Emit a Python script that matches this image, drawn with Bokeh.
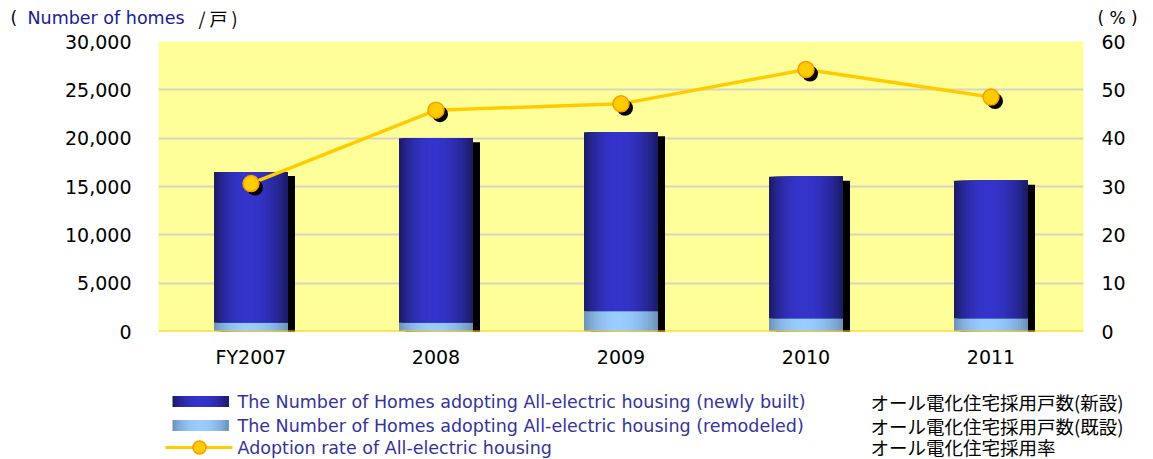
import numpy as np
from bokeh.plotting import figure
from bokeh.models import Range1d, LinearAxis, FixedTicker, NumeralTickFormatter, Span
from bokeh.layouts import column
from bokeh.embed import file_html
from bokeh.resources import INLINE
from bokeh.core.properties import value

# ---------------- data ----------------
categories = ["FY2007", "2008", "2009", "2010", "2011"]
newly_built = [15600, 19100, 18500, 14650, 14250]
remodeled = [900, 900, 2100, 1350, 1350]
adoption_rate = [30.6, 45.8, 47.1, 54.2, 48.5]
left_ticks = [0, 5000, 10000, 15000, 20000, 25000, 30000]
right_ticks = [0, 10, 20, 30, 40, 50, 60]
legend_en = ["The Number of Homes adopting All-electric housing (newly built)",
             "The Number of Homes adopting All-electric housing (remodeled)",
             "Adoption rate of All-electric housing"]
legend_ja = ["オール電化住宅採用戸数(新設)", "オール電化住宅採用戸数(既設)", "オール電化住宅採用率"]

FONT = "DejaVu Sans"
JFONT = "Noto Sans CJK JP"

W = 1153
H0 = 29           # title strip
H1 = 351          # main chart
H2 = 79           # legend strip
frame_l, frame_r, frame_t, frame_b = 158, 70, 12, 49
frame_w = W - frame_l - frame_r
frame_h = H1 - frame_t - frame_b

YMAX = 30000
PMAX = 60
n = len(categories)
px_x = frame_w / n          # px per category unit
px_y = frame_h / YMAX       # px per home
px_p = frame_h / PMAX       # px per percent


def strip_fig(h, y0):
    f = figure(width=W, height=h, output_backend="svg", toolbar_location=None,
               x_range=Range1d(0, W), y_range=Range1d(y0 + h, y0),
               min_border_left=0, min_border_right=0, min_border_top=0, min_border_bottom=0,
               outline_line_color=None, background_fill_color="white", border_fill_color="white")
    f.axis.visible = False
    f.grid.grid_line_color = None
    f.frame_align = False
    return f


def txt(fig, x, y, text, font, size, color):
    fig.text(x=[x], y=[y], text=[text], text_font=value(font), text_font_size=size,
             text_color=color, text_baseline="middle", text_align="left")


# ---------------- title strip ----------------
top = strip_fig(H0, 0)
txt(top, 10, 17, "(", FONT, "17px", "black")
txt(top, 27, 17, "Number of homes", FONT, "17.5px", "#1a1a99")
txt(top, 198, 17, "/ 戸 )", JFONT, "18px", "black")
txt(top, 1097, 17, "( % )", FONT, "17px", "black")

# ---------------- main chart ----------------
p = figure(width=W, height=H1, output_backend="svg", toolbar_location=None,
           x_range=Range1d(-0.5, n - 0.5), y_range=Range1d(0, YMAX),
           min_border_left=frame_l, min_border_right=frame_r,
           min_border_top=frame_t, min_border_bottom=frame_b,
           background_fill_color="#ffff99", border_fill_color="white",
           outline_line_color=None)
p.frame_align = False
p.extra_y_ranges = {"pct": Range1d(0, PMAX)}

p.xgrid.grid_line_color = None
p.ygrid.grid_line_color = "#d6d6c4"
p.ygrid.grid_line_width = 2
p.ygrid.ticker = FixedTicker(ticks=left_ticks)

p.yaxis.ticker = FixedTicker(ticks=left_ticks)
p.yaxis.formatter = NumeralTickFormatter(format="0,0")
for ax in [p.yaxis[0], p.xaxis[0]]:
    ax.axis_line_color = None
    ax.major_tick_line_color = None
    ax.minor_tick_line_color = None
    ax.major_tick_out = 0
    ax.major_label_text_font = FONT
    ax.major_label_text_font_size = "19px"
    ax.major_label_text_color = "black"
p.yaxis.major_label_standoff = 27
p.xaxis.ticker = FixedTicker(ticks=list(range(n)))
p.xaxis.major_label_overrides = {i: c for i, c in enumerate(categories)}
p.xaxis.major_label_standoff = 14

ra = LinearAxis(y_range_name="pct", ticker=FixedTicker(ticks=right_ticks))
ra.axis_line_color = None
ra.major_tick_line_color = None
ra.minor_tick_line_color = None
ra.major_tick_out = 0
ra.major_label_text_font = FONT
ra.major_label_text_font_size = "19px"
ra.major_label_text_color = "black"
ra.major_label_standoff = 18
p.add_layout(ra, "right")


def mix(c1, c2, t):
    return "#%02x%02x%02x" % tuple(int(round(a + (b - a) * t)) for a, b in zip(c1, c2))


def profile(f, c):
    d = abs(f - c) / (1 - c if f > c else c)
    return np.cos(min(d, 1) * np.pi / 2) ** 0.7


bw = 0.4
nstrip = 30
sx = 7 / px_x
sy = 4 / px_y
tops = [a + b for a, b in zip(newly_built, remodeled)]
# shadows
p.quad(left=[i - bw / 2 + sx for i in range(n)], right=[i + bw / 2 + sx for i in range(n)],
       bottom=[-sy] * n, top=[t - sy for t in tops], fill_color="black", line_color=None)
p.quad(left=[i - bw / 2 + sx for i in range(n)], right=[i + bw / 2 + sx for i in range(n)],
       bottom=[-sy] * n, top=[r - sy * 0.3 for r in remodeled], fill_color="black", line_color=None)

dark_edge, dark_mid = (24, 24, 88), (52, 52, 204)
light_edge, light_mid = (104, 140, 176), (153, 204, 255)
L, R, B, T, C = [], [], [], [], []
for i in range(n):
    for j in range(nstrip):
        f = (j + 0.5) / nstrip
        t = profile(f, 0.45)
        left = i - bw / 2 + j * bw / nstrip
        right = i + bw / 2
        L += [left, left]
        R += [right, right]
        B += [0, remodeled[i]]
        T += [remodeled[i], tops[i]]
        C += [mix(light_edge, light_mid, t), mix(dark_edge, dark_mid, t)]
p.quad(left=L, right=R, bottom=B, top=T, fill_color=C, line_color=None)

p.add_layout(Span(location=0, dimension="width", line_color="#ffcc00", line_width=2))

xs = list(range(n))
p.line(xs, adoption_rate, y_range_name="pct", line_color="#ffcc00", line_width=3.5)
p.scatter([x + 4 / px_x for x in xs], [r - 4 / px_p for r in adoption_rate], y_range_name="pct",
          size=16, fill_color="black", line_color=None)
p.scatter(xs, adoption_rate, y_range_name="pct", size=16, fill_color="#ffcc00",
          line_color="#ff9900", line_width=1.5)

# ---------------- legend strip ----------------
lg = strip_fig(H2, H0 + H1)
rows = [401, 425, 447]
for k, (ce, cm) in enumerate([(dark_edge, dark_mid), (light_edge, light_mid)]):
    ls, rs, cs = [], [], []
    for j in range(nstrip):
        f = (j + 0.5) / nstrip
        t = profile(f, 0.5)
        ls.append(172 + j * 56 / nstrip)
        rs.append(228)
        cs.append(mix(ce, cm, t))
    lg.quad(left=ls, right=rs, bottom=[rows[k] + 5.5] * nstrip, top=[rows[k] - 5.5] * nstrip,
            fill_color=cs, line_color=None)
lg.line([165, 232], [rows[2], rows[2]], line_color="#ffcc00", line_width=3)
lg.scatter([199], [rows[2]], size=13, fill_color="#ffcc00", line_color="#ff9900", line_width=1.5)
for k in range(3):
    txt(lg, 237, rows[k], legend_en[k], FONT, "17.5px", "#333399")
    txt(lg, 870, rows[k] - (1 if k == 2 else 0), legend_ja[k], JFONT, "18.5px", "black")

layout = column(top, p, lg, spacing=0)
open("out.html", "w").write(file_html(layout, INLINE))
